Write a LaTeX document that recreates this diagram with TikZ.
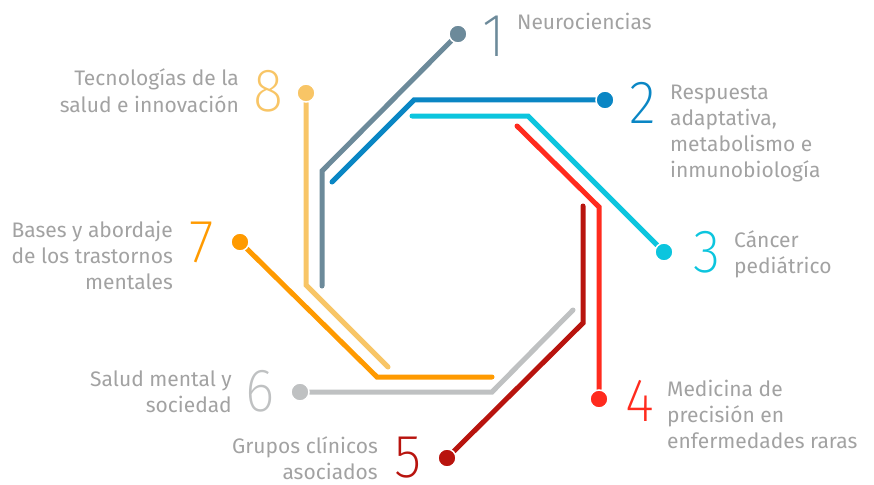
\documentclass[tikz,border=0pt]{standalone}
\usepackage{fontspec}
\setmainfont{Fira Sans}
\newfontfamily\numfont{Fira Sans ExtraLight}

\definecolor{neuro}{HTML}{6C8A9A}
\definecolor{resp}{HTML}{0A86C4}
\definecolor{cancer}{HTML}{0CC5DE}
\definecolor{raras}{HTML}{FF2B1E}
\definecolor{clin}{HTML}{B8140E}
\definecolor{mental}{HTML}{BFC1C2}
\definecolor{trast}{HTML}{FF9A00}
\definecolor{tecno}{HTML}{F8C566}
\definecolor{txtgray}{HTML}{A2A2A2}

\begin{document}
\begin{tikzpicture}[x=1pt,y=-1pt,
    track/.style={line width=5pt,line cap=round,line join=miter},
    dotpt/.style={circle,minimum size=19pt,inner sep=0pt},
    bignum/.style={inner sep=0pt,xscale=0.92,transform shape,font=\numfont\fontsize{61}{61}\selectfont},
    lbl/.style={inner sep=0pt,text=txtgray,font=\fontsize{21}{26}\selectfont}]
      \useasboundingbox (0,0) rectangle (874,484);
      % end points of the tracks
      \node[dotpt] (d1) at (458,34) {};
      \node[dotpt] (d2) at (605,100) {};
      \node[dotpt] (d3) at (664,252) {};
      \node[dotpt] (d4) at (599,399) {};
      \node[dotpt] (d5) at (447,458) {};
      \node[dotpt] (d6) at (300,392) {};
      \node[dotpt] (d7) at (240,242) {};
      \node[dotpt] (d8) at (306,93) {};
      \coordinate (e1) at (322,286);
      \coordinate (e2) at (332,182);
      \coordinate (e3) at (412,116);
      \coordinate (e4) at (517,126);
      \coordinate (e5) at (583,206);
      \coordinate (e6) at (573,310);
      \coordinate (e7) at (492,377);
      \coordinate (e8) at (388,367);
      \draw[track,neuro] (e1) -- (322,171) -- (d1);
      \draw[track,resp] (e2) -- (414,100) -- (d2);
      \draw[track,cancer] (e3) -- (528,116) -- (d3);
      \draw[track,raras] (e4) -- (599,207) -- (d4);
      \draw[track,clin] (e5) -- (583,323) -- (d5);
      \draw[track,mental] (e6) -- (492,392) -- (d6);
      \draw[track,trast] (e7) -- (377,377) -- (d7);
      \draw[track,tecno] (e8) -- (306,285) -- (d8);
      % dots on top of the tracks
      \foreach \d/\c in {d1/neuro,d2/resp,d3/cancer,d4/raras,d5/clin,d6/mental,d7/trast,d8/tecno}
        \fill[\c,draw=white,line width=1.5pt] (\d.center) circle (9pt);
      % numbers
      \node[bignum,text=neuro] (n1) at (494,36) {1};
      \node[bignum,text=resp] (n2) at (643,103) {2};
      \node[bignum,text=cancer] (n3) at (707,252) {3};
      \node[bignum,text=raras] (n4) at (640,401) {4};
      \node[bignum,text=clin] (n5) at (408,458) {5};
      \node[bignum,text=mental] (n6) at (260,391) {6};
      \node[bignum,text=trast] (n7) at (202,242) {7};
      \node[bignum,text=tecno] (n8) at (268,91) {8};
      % labels (base = last line)
      \node[lbl,anchor=base west,align=left] (t1) at (517,30) {Neurociencias};
      \node[lbl,anchor=base west,align=left] (t2) at (670,177) {Respuesta\\adaptativa,\\metabolismo e\\inmunobiología};
      \node[lbl,anchor=base west,align=left] (t3) at (734,273) {Cáncer\\pediátrico};
      \node[lbl,anchor=base west,align=left] (t4) at (667,448) {Medicina de\\precisión en\\enfermedades raras};
      \node[lbl,anchor=base east,align=right] (t5) at (378,479) {Grupos clínicos\\asociados};
      \node[lbl,anchor=base east,align=right] (t6) at (232,412) {Salud mental y\\sociedad};
      \node[lbl,anchor=base east,align=right] (t7) at (173,289) {Bases y abordaje\\de los trastornos\\mentales};
      \node[lbl,anchor=base east,align=right] (t8) at (239,112) {Tecnologías de la\\salud e innovación};
    \end{tikzpicture}
\end{document}
